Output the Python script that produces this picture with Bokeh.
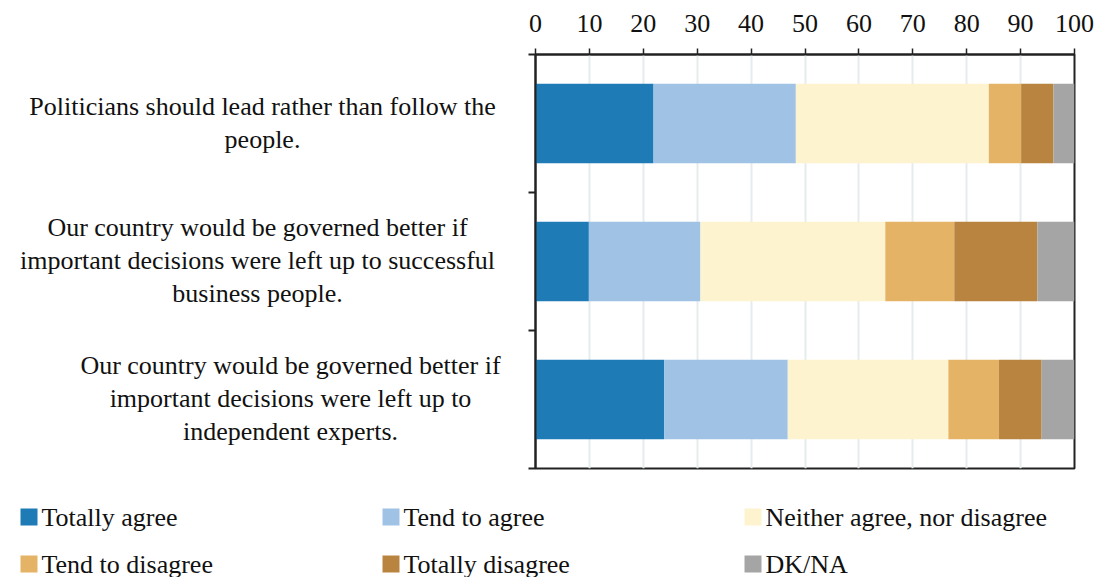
from bokeh.plotting import figure
from bokeh.layouts import row, column
from bokeh.models import ColumnDataSource, Range1d, FixedTicker
from bokeh.core.properties import value
from bokeh.embed import file_html
from bokeh.resources import INLINE

statements = [
    "Politicians should lead rather than follow the\npeople.",
    "Our country would be governed better if\nimportant decisions were left up to successful\nbusiness people.",
    "Our country would be governed better if\nimportant decisions were left up to\nindependent experts.",
]
responses = ["Totally agree", "Tend to agree", "Neither agree, nor disagree",
             "Tend to disagree", "Totally disagree", "DK/NA"]
totally_agree = [21.9, 9.9, 23.9]
tend_to_agree = [26.4, 20.7, 22.9]
neither = [35.8, 34.3, 29.8]
tend_to_disagree = [6.0, 12.8, 9.4]
totally_disagree = [6.0, 15.4, 7.9]
dk_na = [3.9, 6.9, 6.1]
x_ticks = list(range(0, 101, 10))

colors = ["#1f7bb6", "#9fc2e5", "#fdf4cf", "#e5b366", "#b8843f", "#a5a5a5"]
FONT = "Liberation Serif"

TOP, FRAME_H, BOT = 54, 414, 2
LAB_W, P_LEFT, FRAME_W, TOTAL_W = 525, 10, 539, 1100
MAIN_H = TOP + FRAME_H + BOT
LEG_H = 107

series = [totally_agree, tend_to_agree, neither, tend_to_disagree, totally_disagree, dk_na]
data = {"y": [i + 0.5 for i in range(len(statements))]}
for name, vals in zip(responses, series):
    data[name] = vals
source = ColumnDataSource(data)

y_range = Range1d(len(statements), 0)

# ---- main plot
p = figure(width=TOTAL_W - LAB_W, height=MAIN_H, output_backend="svg", toolbar_location=None,
           title=None, x_range=Range1d(0, 100), y_range=y_range,
           x_axis_location="above", frame_width=FRAME_W, frame_height=FRAME_H,
           min_border_left=P_LEFT, min_border_right=TOTAL_W - LAB_W - P_LEFT - FRAME_W,
           min_border_top=TOP, min_border_bottom=BOT)

p.hbar_stack(responses, y="y", height=0.575, color=colors, line_color=None, source=source)

xa = p.xaxis[0]
xa.ticker = FixedTicker(ticks=x_ticks)
xa.major_label_text_font = FONT
xa.major_label_text_font_size = "26px"
xa.major_label_text_color = "#111111"
xa.major_label_standoff = 17
xa.major_tick_in = 0
xa.major_tick_out = 6
xa.minor_tick_line_color = None
xa.axis_line_color = "#222222"
xa.axis_line_width = 2
xa.major_tick_line_color = "#222222"
xa.major_tick_line_width = 1.5

ya = p.yaxis[0]
ya.ticker = FixedTicker(ticks=list(range(len(statements) + 1)))
ya.major_label_text_font_size = "0px"
ya.major_label_standoff = 0
ya.major_tick_in = 0
ya.major_tick_out = 7
ya.minor_tick_line_color = None
ya.axis_line_color = "#222222"
ya.axis_line_width = 2
ya.major_tick_line_color = "#222222"
ya.major_tick_line_width = 2

p.xgrid.ticker = FixedTicker(ticks=x_ticks)
p.xgrid.grid_line_color = "#e6ecee"
p.xgrid.grid_line_width = 2
p.ygrid.grid_line_color = None
p.outline_line_color = "#222222"
p.outline_line_width = 2
p.border_fill_color = "white"

# ---- left label panel
lab = figure(width=LAB_W, height=MAIN_H, output_backend="svg", toolbar_location=None,
             title=None, x_range=Range1d(0, LAB_W), y_range=y_range,
             x_axis_location=None, y_axis_location=None,
             frame_width=LAB_W, frame_height=FRAME_H,
             min_border_left=0, min_border_right=0, min_border_top=TOP, min_border_bottom=BOT)
lab.outline_line_color = None
lab.grid.grid_line_color = None

centers = [262, 257, 290]
tx, ty, tt, toff = [], [], [], []
for i, (txt, cx) in enumerate(zip(statements, centers)):
    lines = txt.split("\n")
    n = len(lines)
    for j, line in enumerate(lines):
        tx.append(cx)
        ty.append(i + 0.5)
        tt.append(line)
        toff.append((j - (n - 1) / 2) * 33 - 1)
lab.text(x="x", y="y", text="t", y_offset="off",
         source=ColumnDataSource(dict(x=tx, y=ty, t=tt, off=toff)),
         text_align="center", text_baseline="middle",
         text_font=value(FONT), text_font_size="26px", text_color="#111111")

# ---- legend panel
leg = figure(width=TOTAL_W, height=LEG_H, output_backend="svg", toolbar_location=None,
             title=None, x_range=Range1d(0, TOTAL_W), y_range=Range1d(LEG_H, 0),
             x_axis_location=None, y_axis_location=None,
             min_border=0)
leg.outline_line_color = None
leg.grid.grid_line_color = None

col_x = [20, 382, 744]
row_y = [46.5, 93.5]
sq_x, sq_y, lx = [], [], []
for k in range(len(responses)):
    sq_x.append(col_x[k % 3] + 8.5)
    sq_y.append(row_y[k // 3])
    lx.append(col_x[k % 3] + 21)
leg.rect(x=sq_x, y=sq_y, width=17, height=17, color=colors, line_color=None)
leg.text(x=lx, y=sq_y, text=responses, text_align="left", text_baseline="middle",
         text_font=value(FONT), text_font_size="26px", text_color="#111111")

layout = column(row(lab, p, spacing=0), leg, spacing=0)
open("out.html", "w").write(file_html(layout, INLINE))
